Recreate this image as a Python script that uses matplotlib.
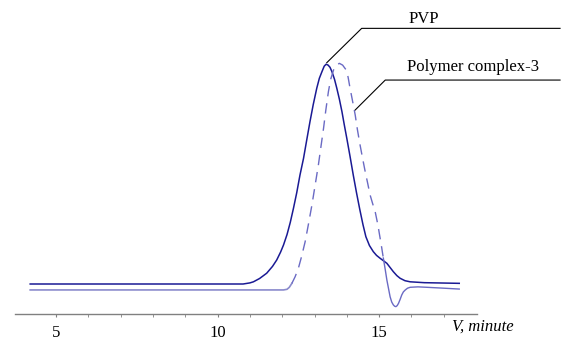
import matplotlib
matplotlib.use("Agg")
import matplotlib.pyplot as plt

# elution volume (minute) and detector signal
pvp_v = [4.20, 10.79, 11.00, 11.11, 11.30, 11.52, 11.70, 11.83, 11.95, 12.04,
         12.15, 12.25, 12.35, 12.45, 12.55, 12.66, 12.76, 12.86, 12.96, 13.07,
         13.15, 13.23, 13.30, 13.36, 13.42, 13.48, 13.54, 13.62, 13.69, 13.77,
         13.85, 13.92, 14.00, 14.10, 14.20, 14.30, 14.40, 14.50, 14.59, 14.70,
         14.82, 14.92, 15.03, 15.14, 15.24, 15.34, 15.44, 15.55, 15.65, 15.80,
         15.96, 16.40, 17.48]
pvp_sig = [0.000, 0.000, 0.005, 0.010, 0.025, 0.049, 0.080, 0.109, 0.145, 0.177,
           0.225, 0.280, 0.345, 0.415, 0.495, 0.571, 0.655, 0.738, 0.815, 0.890,
           0.935, 0.965, 0.990, 0.999, 0.995, 0.985, 0.965, 0.930, 0.890, 0.840,
           0.783, 0.725, 0.662, 0.580, 0.495, 0.415, 0.340, 0.270, 0.215, 0.175,
           0.147, 0.130, 0.117, 0.105, 0.094, 0.075, 0.056, 0.038, 0.026, 0.015,
           0.010, 0.006, 0.003]

cpx_v = [4.20, 12.04, 12.15, 12.22, 12.30, 12.40, 12.50, 12.60, 12.71, 12.81,
         12.92, 13.02, 13.12, 13.20, 13.28, 13.35, 13.43, 13.50, 13.59, 13.68,
         13.77, 13.87, 13.98, 14.04, 14.10, 14.18, 14.26, 14.33, 14.41, 14.49,
         14.57, 14.65, 14.72, 14.80, 14.88, 14.96, 15.03, 15.08, 15.13, 15.19,
         15.24, 15.29, 15.34, 15.39, 15.44, 15.48, 15.52, 15.56, 15.60, 15.65,
         15.70, 15.75, 15.81, 15.88, 15.96, 16.20, 16.48, 17.00, 17.48]
cpx_sig = [-0.027, -0.027, -0.024, -0.015, 0.003, 0.033, 0.071, 0.125, 0.192, 0.270,
           0.359, 0.450, 0.541, 0.625, 0.708, 0.790, 0.874, 0.930, 0.973, 0.995,
           1.003, 0.995, 0.973, 0.940, 0.890, 0.830, 0.768, 0.700, 0.632, 0.570,
           0.510, 0.455, 0.405, 0.365, 0.327, 0.270, 0.209, 0.165, 0.118, 0.065,
           0.018, -0.020, -0.058, -0.082, -0.095, -0.101, -0.103, -0.098, -0.088, -0.070,
           -0.050, -0.036, -0.027, -0.019, -0.015, -0.013, -0.015, -0.019, -0.023]

# the complex trace is dashed only over its peak
dash_start, dash_end = 12.30, 15.13

major_ticks = [5, 10, 15]
minor_ticks = [6, 7, 8, 9, 11, 12, 13, 14, 16, 17]

plt.rcParams['font.family'] = ['Liberation Serif', 'DejaVu Serif']
plt.rcParams['lines.scale_dashes'] = False

fig = plt.figure(figsize=(5.64, 3.45), dpi=100)
ax = fig.add_axes([0.0266, 0.089, 0.8186, 0.911])
ax.set_xlim(3.73, 18.02)
ax.set_ylim(-0.1377, 1.2909)

ax.plot(pvp_v, pvp_sig, color='#1a1a94', lw=1.1)

i0 = cpx_v.index(dash_start)
i1 = cpx_v.index(dash_end)
ax.plot(cpx_v[:i0 + 1], cpx_sig[:i0 + 1], color='#8a8acc', lw=1.2)
ax.plot(cpx_v[i0:i1 + 1], cpx_sig[i0:i1 + 1], color='#6a6ac4', lw=1.0,
        dashes=(7.5, 5))
ax.plot(cpx_v[i1:], cpx_sig[i1:], color='#6a6ac4', lw=1.0)

# leader lines with labels
ax.plot([13.38, 14.46, 20.6], [1.006, 1.162, 1.162], color='black', lw=0.8,
        clip_on=False)
ax.plot([14.26, 15.19, 20.6], [0.791, 0.927, 0.927], color='black', lw=0.8,
        clip_on=False)
ax.text(15.90, 1.205, 'PVP', fontsize=12, va='center', ha='left')
ax.text(15.86, 0.988, 'Polymer complex-3', fontsize=12, va='center', ha='left')

for s in ['left', 'right', 'top']:
    ax.spines[s].set_visible(False)
ax.spines['bottom'].set_color('#808080')
ax.spines['bottom'].set_linewidth(1.0)
ax.set_yticks([])
ax.set_xticks(major_ticks)
ax.set_xticks(minor_ticks, minor=True)
ax.tick_params(axis='x', which='both', direction='out', length=2.5,
               color='#808080', labelsize=12, pad=5)

fig.text(451.7 / 564, 1 - 327 / 345, 'V, minute', fontsize=12, style='italic',
         ha='left', va='center')

fig.savefig('out.png', dpi=100)
